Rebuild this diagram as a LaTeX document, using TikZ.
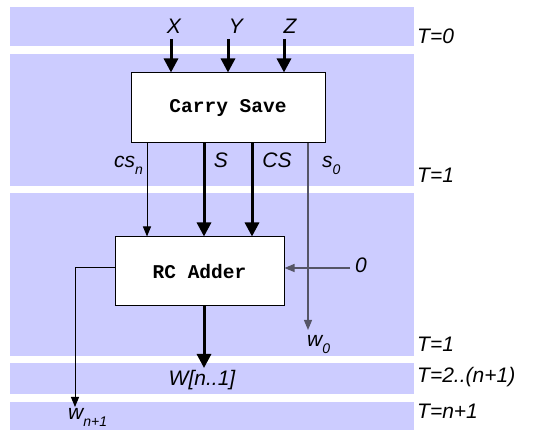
\documentclass[tikz,border=0pt]{standalone}
\usepackage{fontspec}
\setmainfont{Liberation Sans}
\setmonofont{Liberation Mono}
\usetikzlibrary{arrows.meta}
\definecolor{band}{HTML}{CCCCFF}
\definecolor{gline}{HTML}{555566}
\newcommand\lbl[1]{\fontsize{21}{25}\selectfont\itshape #1}
\newcommand\subs[1]{\raisebox{-0.32em}{\fontsize{14}{14}\selectfont\itshape #1}}
\begin{document}
\begin{tikzpicture}[x=1pt,y=-1pt,
  bandbox/.style={fill=band,draw=none},
  blockbox/.style={draw=black,fill=white,line width=1pt,font=\fontsize{19.5}{22}\selectfont\ttfamily\bfseries},
  thickarr/.style={line width=3pt,-{Triangle[width=14pt,length=14pt]}},
  thinarr/.style={line width=1pt,-{Triangle[width=8pt,length=10pt]}},
  grayarr/.style={line width=1.2pt,draw=gline,-{Triangle[width=8pt,length=10pt]}},
  lab/.style={inner sep=0pt,anchor=base,font=\lbl},
  tlab/.style={inner sep=0pt,anchor=base west,font=\lbl}]
\useasboundingbox (0,0) rectangle (542,430);
\fill[bandbox] (10,7) rectangle (414,46);
\fill[bandbox] (10,54) rectangle (414,186);
\fill[bandbox] (10,193) rectangle (414,356);
\fill[bandbox] (10,363) rectangle (414,394);
\fill[bandbox] (10,402) rectangle (414,430);

\node[blockbox,minimum width=194pt,minimum height=70pt] (cs) at (228,108) {Carry Save};
\node[blockbox,minimum width=169pt,minimum height=69pt] (rc) at (199.5,271.5) {RC Adder};

% input labels
\node[lab] (x) at (174,34) {X};
\node[lab] (y) at (236,34) {Y};
\node[lab] (z) at (290,34) {Z};
\coordinate (xs) at (171,39);
\coordinate (ys) at (228,39);
\coordinate (zs) at (284,39);
\draw[thickarr] (xs) -- (xs |- cs.north);
\draw[thickarr] (ys) -- (ys |- cs.north);
\draw[thickarr] (zs) -- (zs |- cs.north);

% CS outputs
\coordinate (o1) at (147,143);
\coordinate (o2) at (204,143);
\coordinate (o3) at (252,143);
\coordinate (o4) at (308,143);
\draw[thinarr] (o1) -- (o1 |- rc.north);
\draw[thickarr] (o2) -- (o2 |- rc.north);
\draw[thickarr] (o3) -- (o3 |- rc.north);
\coordinate (w0e) at (308,330);
\draw[grayarr] (o4) -- (w0e);

\node[lab,anchor=base east] (lcsn) at (143,168) {cs\subs{n}};
\node[lab] (ls) at (221,168) {S};
\node[lab] (lcs) at (277,168) {CS};
\node[lab,anchor=base west] (ls0) at (322,168) {s\subs{0}};

% zero input
\node[lab,anchor=base west] (zero) at (355,273) {0};
\coordinate (zs0) at (350,268);
\draw[grayarr] (zs0) -- (zs0 -| rc.east);

% RC outputs
\coordinate (wb) at (204,368);
\draw[thickarr] (rc.south -| wb) -- (wb);
\node[lab] (lW) at (202,386) {W[n..1]};
\coordinate (wl) at (75,407);
\draw[thinarr] (rc.west |- 0,268) -- (75,268) -- (wl);
\node[lab,anchor=base west] (lwn) at (68,420) {w\subs{n+1}};
\node[lab,anchor=base west] (lw0) at (307,347) {w\subs{0}};

% time labels
\node[tlab] (t0) at (417,44) {T=0};
\node[tlab] (t1) at (417,183) {T=1};
\node[tlab] (t1b) at (417,352) {T=1};
\node[tlab] (t2) at (417,383) {T=2..(n+1)};
\node[tlab] (t3) at (417,419) {T=n+1};
\end{tikzpicture}
\end{document}
